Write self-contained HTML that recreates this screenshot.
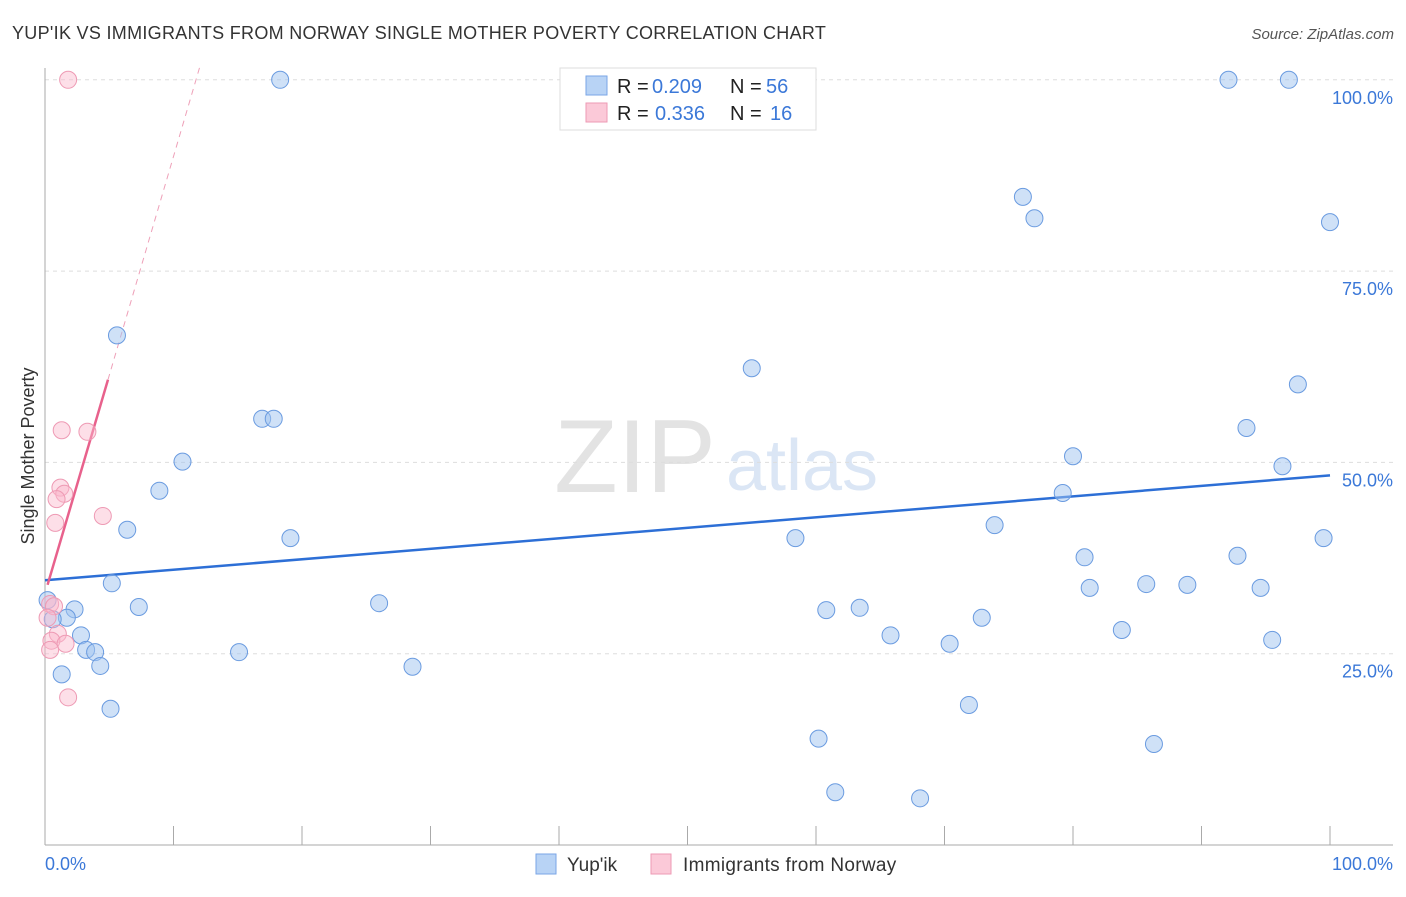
<!DOCTYPE html>
<html><head><meta charset="utf-8"><style>
body{margin:0;background:#fff;font-family:"Liberation Sans",sans-serif}
svg text{font-family:"Liberation Sans",sans-serif}
</style></head><body>
<svg width="1406" height="892">
<text x="12" y="39" font-size="18" letter-spacing="0.3" fill="#333">YUP'IK VS IMMIGRANTS FROM NORWAY SINGLE MOTHER POVERTY CORRELATION CHART</text>
<text x="1394" y="39" font-size="15" fill="#555" text-anchor="end" font-style="italic">Source: ZipAtlas.com</text>
<text x="635" y="492" font-size="104" fill="#e3e3e3" font-family="Liberation Serif" text-anchor="middle">ZIP</text>
<text x="802" y="490" font-size="72" fill="#dbe6f5" text-anchor="middle">atlas</text>
<g id="grid"></g>
<g id="axes"></g>
<text transform="translate(34,456) rotate(-90)" font-size="18" fill="#333" text-anchor="middle">Single Mother Poverty</text>
<text x="45" y="870" font-size="18" fill="#3b78d8">0.0%</text>
<text x="1393" y="870" font-size="18" fill="#3b78d8" text-anchor="end">100.0%</text>
<g id="trends"></g>
<g id="points"></g>
<g>
<rect x="560" y="68" width="256" height="62" fill="#fff" stroke="#ddd"/>
<rect x="586" y="76" width="21" height="19" fill="#b8d3f5" stroke="#7aa6e6"/>
<rect x="586" y="103" width="21" height="19" fill="#fbc9d8" stroke="#ee9ab4"/>
<text x="617" y="93" font-size="20" fill="#222">R = <tspan fill="#3b78d8" x="652">0.209</tspan><tspan x="730">N = </tspan><tspan fill="#3b78d8" x="766">56</tspan></text>
<text x="617" y="120" font-size="20" fill="#222">R = <tspan fill="#3b78d8" x="655">0.336</tspan><tspan x="730">N = </tspan><tspan fill="#3b78d8" x="770">16</tspan></text>
</g>
<g>
<rect x="536" y="854" width="20" height="20" fill="#b8d3f5" stroke="#7aa6e6"/>
<text x="567" y="871" font-size="19" fill="#333">Yup'ik</text>
<rect x="651" y="854" width="20" height="20" fill="#fbc9d8" stroke="#ee9ab4"/>
<text x="683" y="871" font-size="19" letter-spacing="0.3" fill="#333">Immigrants from Norway</text>
</g>
</svg>
<script>
const yTicks=[25,50,75,100];
const yTickLabels=["25.0%","50.0%","75.0%","100.0%"];
const blueX=[18.3,92.1,96.8,76.1,77.0,100,5.6,55.0,16.9,17.8,97.5,93.5,10.7,80.0,96.3,8.9,79.2,6.4,73.9,19.1,58.4,99.5,80.9,92.8,5.2,81.3,85.7,88.9,94.6,0.2,2.3,7.3,26.0,60.8,63.4,1.7,0.6,72.9,2.8,65.8,83.8,95.5,3.2,3.9,15.1,70.4,4.3,28.6,1.3,71.9,5.1,60.2,86.3,61.5,68.1,50.2];
const blueY=[100,100,100,84.7,81.9,81.4,66.6,62.3,55.7,55.7,60.2,54.5,50.1,50.8,49.5,46.3,46.0,41.2,41.8,40.1,40.1,40.1,37.6,37.8,34.2,33.6,34.1,34.0,33.6,32.0,30.8,31.1,31.6,30.7,31.0,29.7,29.5,29.7,27.4,27.4,28.1,26.8,25.5,25.2,25.2,26.3,23.4,23.3,22.3,18.3,17.8,13.9,13.2,6.9,6.1,100];
const pinkX=[1.8,1.3,3.3,1.2,1.5,0.9,0.8,4.5,0.4,0.7,0.2,1.0,0.5,1.6,0.4,1.8];
const pinkY=[100,54.2,54.0,46.7,45.9,45.2,42.1,43.0,31.5,31.2,29.7,27.6,26.7,26.3,25.5,19.3];
const blueTrend=[[0,34.6],[100,48.3]];
const pinkTrend=[[0.2,34],[4.9,60.8]];
const pinkDash=[[4.9,60.8],[12.1,102]];
const NS="http://www.w3.org/2000/svg";
const sx=v=>45+v*12.85, sy=v=>845-v*7.652;
function mk(t,a,p){const e=document.createElementNS(NS,t);for(const k in a)e.setAttribute(k,a[k]);p.appendChild(e);return e;}
const grid=document.getElementById('grid');
yTicks.forEach((t,i)=>{
 const l=mk('line',{x1:45,x2:1393,y1:sy(t),y2:sy(t),stroke:'#ddd','stroke-dasharray':'4,4'},grid);
 
 
 const tx=mk('text',{x:1393,y:sy(t)+24,'font-size':18,fill:'#3b78d8','text-anchor':'end'},grid);
 tx.textContent=yTickLabels[i];
 
 
});
const ax=document.getElementById('axes');
mk('line',{x1:45,x2:45,y1:68,y2:845,stroke:'#aaa'},ax);
mk('line',{x1:45,x2:1393,y1:845,y2:845,stroke:'#aaa'},ax);
for(let k=1;k<=10;k++){const t=mk('line',{x1:sx(k*10),x2:sx(k*10),y1:826,y2:845,stroke:'#aaa'},ax);
 
 }
const tr=document.getElementById('trends');
const b=mk('line',{x1:sx(blueTrend[0][0]),y1:sy(blueTrend[0][1]),x2:sx(blueTrend[1][0]),y2:sy(blueTrend[1][1]),stroke:'#2d6fd6','stroke-width':2.5},tr);


const p=mk('line',{x1:sx(pinkTrend[0][0]),y1:sy(pinkTrend[0][1]),x2:sx(pinkTrend[1][0]),y2:sy(pinkTrend[1][1]),stroke:'#e8618c','stroke-width':2.5},tr);


const pd=mk('line',{x1:sx(pinkDash[0][0]),y1:sy(pinkDash[0][1]),x2:sx(pinkDash[1][0]),y2:sy(pinkDash[1][1]),stroke:'#eea0b8','stroke-width':1,'stroke-dasharray':'6,5'},tr);


const pts=document.getElementById('points');
blueX.forEach((x,i)=>{const c=mk('circle',{cx:sx(x),cy:sy(blueY[i]),r:8.5,fill:'rgba(160,195,240,0.5)',stroke:'#6a9be0','stroke-width':1},pts);
 
 });
pinkX.forEach((x,i)=>{const c=mk('circle',{cx:sx(x),cy:sy(pinkY[i]),r:8.5,fill:'rgba(250,185,205,0.45)',stroke:'#ee9ab4','stroke-width':1},pts);
 
 });
</script>
</body></html>
